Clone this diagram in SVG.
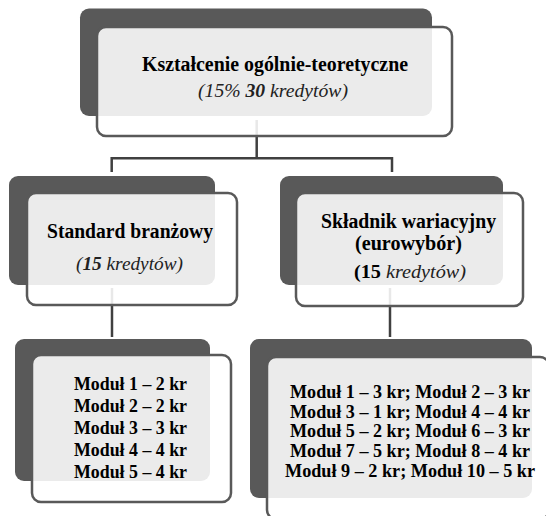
<svg xmlns="http://www.w3.org/2000/svg" width="546" height="516" viewBox="0 0 546 516" font-family="'Liberation Serif', 'DejaVu Serif', 'Times New Roman', serif">
<style>
.dark{fill:#595959}
.light{fill:#ffffff;fill-opacity:0.88;stroke:#595959;stroke-width:2.5}
.conn{fill:none;stroke:#404040;stroke-width:2.5}
text{font-family:'Liberation Serif','DejaVu Serif','Times New Roman',serif;fill:#000;text-anchor:middle}
.b{font-weight:bold;font-size:20px}
.i{font-style:italic;font-size:19px;fill:#222}
.m{font-weight:bold;font-size:19px}
</style>
<rect width="546" height="516" fill="#ffffff"/>
<g id="connectors">
<path class="conn" d="M256.7,120 V158.3 M111.7,172 V158.3 H392 V172"/>
<path class="conn" d="M112,288 V337"/>
<path class="conn" d="M390,288 V337"/>
</g>
<g id="node-top">
<rect class="dark" x="80" y="8.5" width="352" height="107.5" rx="9"/>
<rect class="light" x="97" y="27" width="355" height="109" rx="9"/>
<text class="b" x="275" y="71" textLength="266" lengthAdjust="spacingAndGlyphs">Kształcenie ogólnie-teoretyczne</text>
<text class="i" x="273" y="97" textLength="150" lengthAdjust="spacingAndGlyphs">(15% <tspan font-weight="bold">30</tspan> kredytów)</text>
</g>
<g id="node-standard">
<rect class="dark" x="9" y="176" width="206" height="109" rx="9"/>
<rect class="light" x="27" y="193" width="210" height="112" rx="9"/>
<text class="b" x="130" y="238" textLength="166" lengthAdjust="spacingAndGlyphs">Standard branżowy</text>
<text class="i" x="129.5" y="270" textLength="107" lengthAdjust="spacingAndGlyphs">(<tspan font-weight="bold">15</tspan> kredytów)</text>
</g>
<g id="node-skladnik">
<rect class="dark" x="280" y="176" width="223" height="109" rx="9"/>
<rect class="light" x="296" y="193" width="227" height="113" rx="9"/>
<text class="b" x="408.5" y="228" textLength="175" lengthAdjust="spacingAndGlyphs">Składnik wariacyjny</text>
<text class="b" x="408.5" y="250" textLength="107" lengthAdjust="spacingAndGlyphs">(eurowybór)</text>
<text class="i" x="410" y="278" textLength="112" lengthAdjust="spacingAndGlyphs"><tspan font-style="normal" font-weight="bold" fill="#000">(15</tspan> kredytów)</text>
</g>
<g id="node-moduly-left">
<rect class="dark" x="15" y="339" width="195" height="142" rx="9"/>
<rect class="light" x="32" y="355" width="199" height="147" rx="9"/>
<text class="m" x="130.5" y="390" textLength="113" lengthAdjust="spacingAndGlyphs">Moduł 1 – 2 kr</text>
<text class="m" x="130.5" y="412" textLength="113" lengthAdjust="spacingAndGlyphs">Moduł 2 – 2 kr</text>
<text class="m" x="130.5" y="434" textLength="113" lengthAdjust="spacingAndGlyphs">Moduł 3 – 3 kr</text>
<text class="m" x="130.5" y="456" textLength="113" lengthAdjust="spacingAndGlyphs">Moduł 4 – 4 kr</text>
<text class="m" x="130.5" y="478" textLength="113" lengthAdjust="spacingAndGlyphs">Moduł 5 – 4 kr</text>
</g>
<g id="node-moduly-right">
<rect class="dark" x="250" y="339" width="282" height="159" rx="9"/>
<rect class="light" x="267" y="357" width="282" height="162" rx="9"/>
<text class="m" x="410" y="398" textLength="240" lengthAdjust="spacingAndGlyphs">Moduł 1 – 3 kr; Moduł 2 – 3 kr</text>
<text class="m" x="410" y="418" textLength="240" lengthAdjust="spacingAndGlyphs">Moduł 3 – 1 kr; Moduł 4 – 4 kr</text>
<text class="m" x="410" y="437" textLength="240" lengthAdjust="spacingAndGlyphs">Moduł 5 – 2 kr; Moduł 6 – 3 kr</text>
<text class="m" x="410" y="457" textLength="240" lengthAdjust="spacingAndGlyphs">Moduł 7 – 5 kr; Moduł 8 – 4 kr</text>
<text class="m" x="410" y="477" textLength="250" lengthAdjust="spacingAndGlyphs">Moduł 9 – 2 kr; Moduł 10 – 5 kr</text>
</g>
</svg>
